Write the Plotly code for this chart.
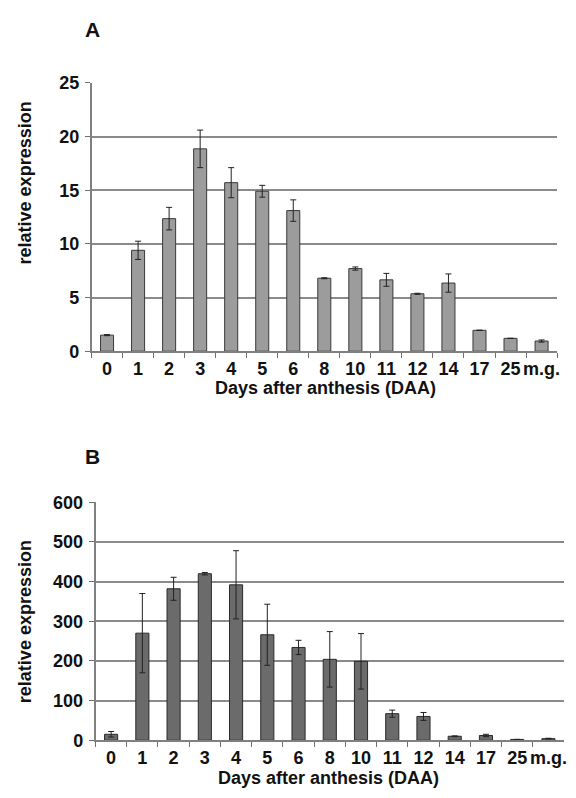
import plotly.graph_objects as go

categories = ["0", "1", "2", "3", "4", "5", "6", "8", "10", "11", "12", "14", "17", "25", "m.g."]

values_a = [1.5, 9.4, 12.35, 18.85, 15.7, 14.9, 13.1, 6.8, 7.7, 6.65, 5.35, 6.35, 1.95, 1.2, 0.95]
errors_a = [0.05, 0.85, 1.05, 1.75, 1.4, 0.55, 1.0, 0.05, 0.15, 0.6, 0.05, 0.85, 0.0, 0.0, 0.1]

values_b = [15, 270, 382, 420, 392, 266, 234, 204, 199, 67, 60, 10, 12, 2, 4]
errors_b = [7, 100, 29, 3, 86, 77, 18, 70, 70, 9, 10, 1, 3, 0, 1]

yticks_a = [0, 5, 10, 15, 20, 25]
yticks_b = [0, 100, 200, 300, 400, 500, 600]

W, H = 576, 798
FONT = "Liberation Sans, Arial, sans-serif"

fig = go.Figure()

fig.add_trace(go.Bar(
    x=categories, y=values_a, xaxis="x", yaxis="y",
    marker=dict(color="#9c9c9c", line=dict(color="#3a3a3a", width=1)),
    error_y=dict(type="data", array=errors_a, visible=True, color="#222222", thickness=1, width=3),
    width=0.42, showlegend=False,
))
fig.add_trace(go.Bar(
    x=categories, y=values_b, xaxis="x2", yaxis="y2",
    marker=dict(color="#6b6b6b", line=dict(color="#2a2a2a", width=1)),
    error_y=dict(type="data", array=errors_b, visible=True, color="#222222", thickness=1, width=3),
    width=0.42, showlegend=False,
))

tickfont = dict(family=FONT, size=18, color="#111111", weight="bold")

def xax(domain, anchor):
    return dict(domain=domain, anchor=anchor, type="category", tickangle=0,
                tickson="boundaries", ticks="outside", ticklen=5, tickcolor="#707070",
                showline=True, linecolor="#808080", linewidth=1.5,
                showgrid=False, tickfont=tickfont, zeroline=False)

def yax(domain, anchor, rng, tv):
    return dict(domain=domain, anchor=anchor, range=rng, tickvals=tv,
                ticks="outside", ticklen=5, tickcolor="#707070",
                showline=True, linecolor="#808080", linewidth=1.5,
                showgrid=True, gridcolor="#8a8a8a", gridwidth=1.5,
                zeroline=False, tickfont=tickfont, ticklabelstandoff=2)

fig.update_layout(
    width=W, height=H,
    margin=dict(l=0, r=0, t=0, b=0),
    paper_bgcolor="white", plot_bgcolor="white",
    bargap=0.58,
    xaxis=xax([92 / W, 560 / W], "y"),
    yaxis=yax([1 - 350 / H, 1 - 74.7 / H], "x", [0, 25], yticks_a),
    xaxis2=xax([96 / W, 567 / W], "y2"),
    yaxis2=yax([1 - 749 / H, 1 - 505 / H], "x2", [0, 600], yticks_b),
    font=dict(family=FONT),
)

def ann(text, x, y, size, angle=0):
    fig.add_annotation(text=text, x=x / W, y=1 - y / H, xref="paper", yref="paper",
                       showarrow=False, textangle=angle, xanchor="center", yanchor="middle",
                       font=dict(family=FONT, size=size, color="#111111", weight="bold"))

ann("A", 93, 20, 21)
ann("B", 93, 458, 21)
ann("relative expression", 25, 177, 18, -90)
ann("relative expression", 25, 627, 18, -90)
ann("Days after anthesis (DAA)", 327, 388, 18)
ann("Days after anthesis (DAA)", 330, 788, 18)

fig.write_html("out.html")
